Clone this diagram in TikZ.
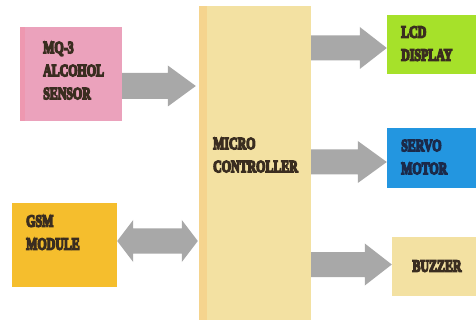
\documentclass[tikz,border=0pt]{standalone}
\usepackage{fontspec}
\usepackage{graphicx}
\usetikzlibrary{calc}
\newfontfamily\heavyfont{Liberation Serif Bold}
\newcommand\lbltext[1]{\special{pdf:literal direct 2 Tr 1.6 w}\scalebox{0.7}[1]{\begin{tabular}{@{}l@{}}#1\end{tabular}}\special{pdf:literal direct 0 Tr}}
\definecolor{pinkbox}{HTML}{EBA2BC}
\definecolor{pinkedge}{HTML}{EE98B0}
\definecolor{creambox}{HTML}{F3E1A2}
\definecolor{creamedge}{HTML}{F5D48E}
\definecolor{greenbox}{HTML}{A6E12A}
\definecolor{bluebox}{HTML}{2396E0}
\definecolor{gsmbox}{HTML}{F5BE2D}
\definecolor{arrowgray}{HTML}{A8A8A8}
\definecolor{txtdark}{HTML}{3A2D20}
\definecolor{txtnavy}{HTML}{1B2A4A}
\newcommand\rblock[5]{%
  \fill[arrowgray] ($(#1)+(0,-#3)$) -- ($(#2)+(-#5,-#3)$) -- ($(#2)+(-#5,-#4)$) -- (#2)
    -- ($(#2)+(-#5,#4)$) -- ($(#2)+(-#5,#3)$) -- ($(#1)+(0,#3)$) -- cycle;}
\newcommand\dblock[5]{%
  \fill[arrowgray] (#1) -- ($(#1)+(#5,-#4)$) -- ($(#1)+(#5,-#3)$) -- ($(#2)+(-#5,-#3)$)
    -- ($(#2)+(-#5,-#4)$) -- (#2) -- ($(#2)+(-#5,#4)$) -- ($(#2)+(-#5,#3)$)
    -- ($(#1)+(#5,#3)$) -- ($(#1)+(#5,#4)$) -- cycle;}
\begin{document}
\begin{tikzpicture}[x=1pt,y=-1pt,
  box/.style={draw=none,rectangle,inner sep=0pt},
  edgestripe/.style 2 args={path picture={\fill[#1] (path picture bounding box.south west) rectangle ([xshift=#2]path picture bounding box.north east -| path picture bounding box.west);}},
  lbl/.style={inner sep=0pt,text=txtdark,font={\heavyfont\fontsize{17}{23}\selectfont}}]
\useasboundingbox[fill=white] (0,0) rectangle (476,320);
% boxes
\node[box,fill=pinkbox,edgestripe={pinkedge}{5pt},minimum width=102pt,minimum height=94pt] (mq) at (71,74) {};
\node[box,fill=creambox,edgestripe={creamedge}{8pt},minimum width=112pt,minimum height=314pt] (mcu) at (255,163) {};
\node[box,fill=greenbox,minimum width=89pt,minimum height=59pt] (lcd) at (431.5,44.5) {};
\node[box,fill=bluebox,minimum width=89pt,minimum height=60pt] (servo) at (431.5,158) {};
\node[box,fill=creambox,minimum width=84pt,minimum height=59pt] (buzzer) at (434,266.5) {};
\node[box,fill=gsmbox,minimum width=105pt,minimum height=84pt] (gsm) at (64.5,245) {};
% labels
\node[lbl,anchor=west] (mqt) at (43,71.5) {\lbltext{MQ-3\\ALCOHOL\\SENSOR}};
\node[lbl,anchor=west] (mcut) at (213,156) {\lbltext{MICRO\\CONTROLLER}};
\node[lbl,anchor=west] (lcdt) at (401,44.5) {\lbltext{LCD\\DISPLAY}};
\node[lbl,anchor=west,text=txtnavy] (servot) at (401,158) {\lbltext{SERVO\\MOTOR}};
\node[lbl] (buzzert) at (437,267) {\lbltext{BUZZER}};
\node[lbl,anchor=west] (gsmt) at (26,233.5) {\lbltext{GSM\\MODULE}};
% connectors
\coordinate (s1) at ($(mq.east)+(0,12)$);
\coordinate (t1) at ($(s1 -| mcu.west)+(-3,0)$);
\rblock{s1}{t1}{13}{20.5}{28}
\coordinate (t2) at ($(lcd.west)+(0,3.5)$);
\coordinate (s2) at (t2 -| mcu.east);
\rblock{s2}{t2}{12.5}{21}{27}
\coordinate (t3) at ($(servo.west)+(0,4)$);
\coordinate (s3) at (t3 -| mcu.east);
\rblock{s3}{t3}{12.5}{21}{29}
\coordinate (t4) at ($(buzzer.west)+(0,-2)$);
\coordinate (s4) at (t4 -| mcu.east);
\rblock{s4}{t4}{12.5}{21}{27}
\coordinate (s5) at ($(gsm.east)+(0,-4)$);
\coordinate (t5) at ($(s5 -| mcu.west)+(-1,0)$);
\dblock{s5}{t5}{12.5}{21}{16}
\end{tikzpicture}
\end{document}
